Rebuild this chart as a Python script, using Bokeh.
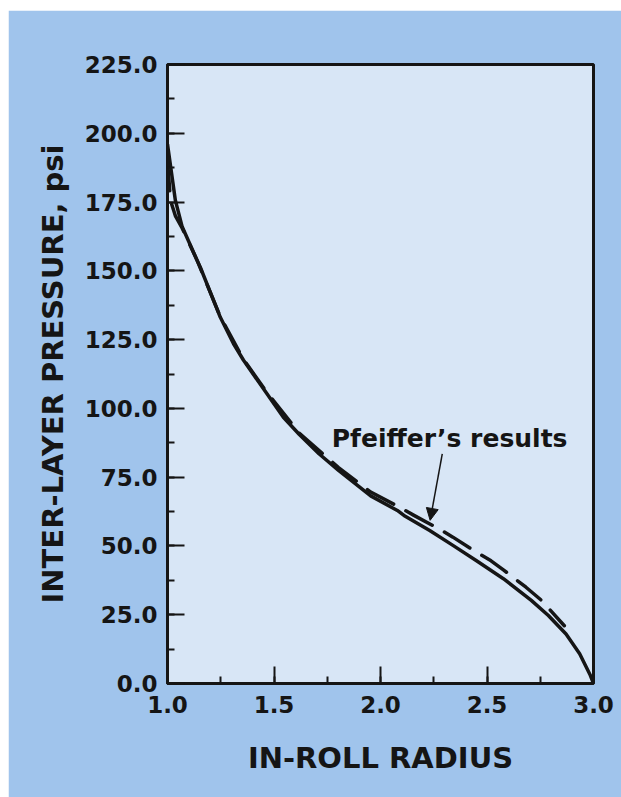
from bokeh.plotting import figure
from bokeh.models import (Range1d, SingleIntervalTicker, NumeralTickFormatter,
                          Arrow, NormalHead, Label)
from bokeh.embed import file_html
from bokeh.resources import INLINE

# ---- data ----
radius_model = [1.0, 1.037, 1.069, 1.139, 1.154, 1.248, 1.31, 1.357, 1.467, 1.544,
                1.619, 1.711, 1.803, 1.954, 2.079, 2.11, 2.231, 2.34, 2.449, 2.577,
                2.708, 2.788, 2.871, 2.935, 2.985, 3.0]
pressure_model = [196.0, 175.6, 166.0, 153.8, 151.3, 133.1, 123.5, 117.5, 105.3, 96.8,
                  90.5, 83.5, 77.5, 68.2, 62.9, 61.1, 55.6, 50.2, 44.7, 38.1,
                  30.2, 24.7, 18.0, 10.8, 3.0, 0.0]

radius_pfeiffer = [1.0, 1.014, 1.037, 1.069, 1.139, 1.248, 1.357, 1.467, 1.619, 1.803,
                   1.954, 2.079, 2.155, 2.279, 2.34, 2.449, 2.519, 2.577, 2.683, 2.756, 2.863]
pressure_pfeiffer = [190.0, 175.6, 170.0, 165.5, 153.8, 133.3, 117.8, 105.8, 91.0, 78.5,
                     69.6, 64.5, 61.2, 56.0, 53.2, 47.8, 44.6, 41.3, 35.0, 30.2, 21.0]

x_ticks_interval = 0.5
y_ticks_interval = 25
annotation_text = "Pfeiffer\u2019s results"
annotation_xy = (1.771, 89.1)
arrow_tail = (2.290, 83.5)
arrow_head = (2.233, 59.3)

OUTER = "#a0c4ec"
INNER = "#d8e6f6"
INK = "#151515"
FONT = "DejaVu Sans"

p = figure(width=613, height=787, output_backend="svg", toolbar_location=None,
           x_range=Range1d(1.0, 3.0), y_range=Range1d(0, 225),
           min_border_left=159, min_border_right=28, min_border_top=54,
           min_border_bottom=114)
p.margin = (10, 0, 0, 8)

p.background_fill_color = INNER
p.border_fill_color = OUTER
p.outline_line_color = INK
p.outline_line_width = 3
p.grid.visible = False

p.xaxis.ticker = SingleIntervalTicker(interval=x_ticks_interval, num_minor_ticks=2)
p.yaxis.ticker = SingleIntervalTicker(interval=y_ticks_interval, num_minor_ticks=2)
p.xaxis.formatter = NumeralTickFormatter(format="0.0")
p.yaxis.formatter = NumeralTickFormatter(format="0.0")

for ax in (p.xaxis, p.yaxis):
    ax.axis_line_color = INK
    ax.axis_line_width = 3
    ax.major_tick_line_color = INK
    ax.major_tick_line_width = 2
    ax.minor_tick_line_color = INK
    ax.minor_tick_line_width = 2
    ax.major_tick_in = 17
    ax.major_tick_out = 0
    ax.minor_tick_in = 7
    ax.minor_tick_out = 0
    ax.major_label_text_font = FONT
    ax.major_label_text_font_style = "bold"
    ax.major_label_text_font_size = "23px"
    ax.major_label_text_color = INK
    ax.axis_label_text_font = FONT
    ax.axis_label_text_font_style = "bold"
    ax.axis_label_text_font_size = "29px"
    ax.axis_label_text_color = INK

p.xaxis.major_label_standoff = 12
p.yaxis.major_label_standoff = 10
p.xaxis.axis_label = "IN-ROLL RADIUS"
p.yaxis.axis_label = "INTER-LAYER PRESSURE, psi"
p.xaxis.axis_label_standoff = 25
p.yaxis.axis_label_standoff = 12

p.line(radius_pfeiffer, pressure_pfeiffer, line_color=INK, line_width=3.5,
       line_dash="30 14", line_cap="round", line_join="round")
p.line(radius_model, pressure_model, line_color=INK, line_width=3.5,
       line_join="round")

p.add_layout(Arrow(x_start=arrow_tail[0], y_start=arrow_tail[1],
                   x_end=arrow_head[0], y_end=arrow_head[1],
                   line_color=INK, line_width=1.5,
                   end=NormalHead(size=12, fill_color=INK, line_color=INK)))
p.add_layout(Label(x=annotation_xy[0], y=annotation_xy[1], text=annotation_text,
                   text_font=FONT, text_font_style="bold", text_font_size="25px",
                   text_color=INK, text_baseline="alphabetic"))

open("out.html", "w").write(file_html(p, INLINE))
